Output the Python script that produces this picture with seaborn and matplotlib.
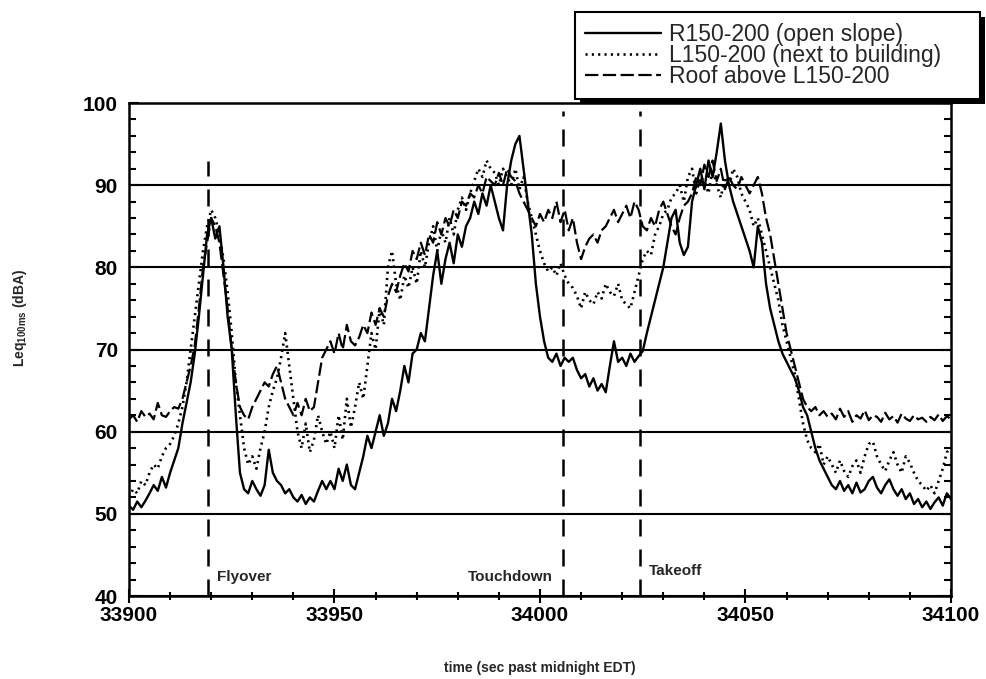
import matplotlib
matplotlib.use("Agg")
import matplotlib.pyplot as plt
from matplotlib.ticker import MultipleLocator
from matplotlib.patches import Rectangle
import seaborn as sns
import pandas as pd

# time axis, one reading per second
time = list(range(33900, 34101))

# R150-200 (open slope)
r_open = [
    51, 50.5, 51.5, 50.8, 51.6,
    52.5, 53.5, 52.8, 54.5, 53.2, 55,
    56.5, 58, 61,
    63.5, 66, 69.5,
    74, 79, 84,
    86, 83.5, 85,
    80, 74, 70,
    62, 55,
    53, 52.5, 54, 53, 52.2, 53.5,
    57.8, 55,
    54, 53.5, 52.5, 53, 52,
    51.5, 52.3, 51.2, 52, 51.5, 52.8,
    54, 53,
    54, 53, 55.5, 54, 56, 53.5, 53,
    55, 57, 59.5, 58, 60,
    62, 59.5, 61, 64, 62.5,
    65, 68, 66, 69.5, 70,
    72, 71, 75,
    79, 82, 78, 81,
    83, 80.5, 84, 82.5, 85,
    86, 88, 86.5, 89, 87.5, 90, 88,
    86, 84.5,
    90, 93, 95, 96, 92,
    88, 84,
    78, 74, 71,
    69, 68.5, 69.5, 68, 69, 68.5, 69,
    67.5, 66.5, 67, 65.5, 66.5, 65, 65.8, 64.8,
    68, 71, 68.5, 69, 68, 69.5, 68.5, 69.2, 69.8,
    72, 74, 76,
    78, 80, 83,
    86, 87,
    83, 81.5, 82.5,
    88, 90, 92, 89.5, 93, 91, 94, 97.5, 93, 90,
    88, 86.5, 85, 83.5, 82,
    80, 85, 83,
    78, 75, 73, 71, 69.5,
    68.5, 67.5, 66.5, 65,
    63, 62, 60,
    58, 56.5, 55.5, 54.5,
    53.5, 53, 54, 52.8, 53.5, 52.5, 53.8, 52.6, 53, 54,
    54.5, 53.2, 52.5, 53.5, 54.2, 53, 52.2, 53, 51.8, 52.5,
    51.2, 51.8, 50.8, 51.5, 50.6, 51.4, 52, 51, 52.5, 51.8,
]

# L150-200 (next to building)
l_building = [
    52, 53, 52.5, 54, 53.5,
    55, 56, 55.5, 57, 58, 58.5,
    59.5, 61, 63,
    66, 70, 74,
    78, 82, 85,
    87, 86, 84,
    81, 77, 72,
    66, 62,
    58, 56, 57, 55.5, 58, 60,
    63, 65,
    66.5, 69, 72, 68, 64,
    60, 58, 61, 57.5, 59, 62,
    60, 58.5,
    60, 58, 62, 59, 64, 60.5, 63,
    66, 64, 68, 72, 70,
    75, 73, 80, 82, 78,
    76, 79, 77.5, 80, 78,
    82, 80, 83,
    85, 82, 84.5, 83,
    86, 84, 87, 88.5, 87,
    89, 90.5, 92, 91, 93, 92, 91.5,
    90, 92,
    91, 90, 92, 89.5, 91,
    88, 86,
    84, 82, 80.5,
    79.5, 80, 79, 80.5, 79, 78, 77.5,
    76.5, 75, 77, 76, 75.5, 77, 76.2, 78,
    77, 76.5, 78, 76, 75.5, 75, 77, 79, 81,
    82, 81.5, 84,
    85, 86.5, 87,
    88.5, 89,
    90, 88, 91,
    92, 89, 91, 90.5, 89, 92, 90, 88.5, 91, 90,
    92, 91, 89, 88, 87,
    85, 86, 84,
    82, 80, 78, 76, 73,
    71, 69, 67, 64,
    61, 59, 58,
    57.5, 58.5, 56, 57,
    56, 55, 56.5, 55.2, 54.5, 55.8, 56.5, 55, 57, 58.5,
    58.8, 57, 56, 55.2, 56.5, 57.5, 56, 55, 57, 56.2,
    55, 54, 53.5, 52.8, 53.5, 52.5, 54, 55.5, 57.5, 58,
]

# Roof above L150-200
roof = [
    61.5, 62, 61.2, 62.5, 61.8,
    62.2, 61.5, 63.5, 62, 61.8, 62.5,
    63, 62.8, 64,
    66, 68, 70.5,
    75, 80, 83,
    86, 85, 83,
    79, 75, 70,
    66, 63,
    62, 61.5, 63, 64, 65, 66,
    65.5, 67,
    68, 66, 64, 63, 62,
    63.5, 62, 64, 62.5, 63, 66,
    69, 70,
    71, 69.5, 72, 70, 73, 71, 70.5,
    71.5, 73, 72, 74.5, 73,
    75, 74, 76.5, 78, 77,
    79, 80.5, 79.5, 82, 81,
    83, 81.5, 84,
    83, 85.5, 84, 86,
    85, 87, 86, 88, 87.5,
    89, 88.5, 90, 89, 91, 90.5, 90,
    91.5, 90,
    92, 91, 90.5, 89, 88,
    87, 86,
    85, 86.5, 85.5,
    87, 86, 88, 85.5, 87, 84.5, 86,
    83, 81, 82.5, 83.5, 84, 83, 84.5, 85,
    86, 87, 85.5, 86.5, 87.5, 86, 88, 87, 85,
    84.5, 86, 85,
    87, 88, 86.5,
    85, 84,
    86, 87.5, 88,
    89, 91, 90, 92.5, 91, 93, 90.5, 92, 89.5, 91,
    90, 89.5, 91, 90, 89,
    90, 91, 89,
    86, 84, 81, 78, 75,
    72, 70, 68, 66,
    64, 63, 62.5,
    63, 62, 62.5, 61.8,
    62.2, 61.5, 62.8, 61.8, 62.5, 61.2, 62, 61.6, 62.6, 61.4,
    62, 61.8, 61.2, 62.3, 61.5, 61.9, 61.1, 62.2, 61.6, 61.3,
    62, 61.5, 61.7, 61.2, 61.8, 61.4, 62.1, 61.3, 61.9, 61.5,
]

# event markers
event_times = [33919.3, 34005.7, 34024.3]
event_tops = [93, 99, 99]
event_labels = ["Flyover", "Touchdown", "Takeoff"]

series_labels = ["R150-200 (open slope)", "L150-200 (next to building)", "Roof above L150-200"]

df = pd.DataFrame({"time": time, "R": r_open, "L": l_building, "Roof": roof})

sns.set_style("ticks")
plt.rcParams["font.family"] = ["Liberation Sans", "DejaVu Sans"]
plt.rcParams["mathtext.default"] = "regular"

fig = plt.figure(figsize=(9.87, 6.79), dpi=100)
ax = fig.add_axes([0.1307, 0.1222, 0.8328, 0.7261])

sns.lineplot(data=df, x="time", y="R", ax=ax, color="black", lw=1.7,
             estimator=None, label=series_labels[0])
sns.lineplot(data=df, x="time", y="L", ax=ax, color="black", lw=1.9,
             estimator=None, label=series_labels[1])
sns.lineplot(data=df, x="time", y="Roof", ax=ax, color="black", lw=1.6,
             estimator=None, label=series_labels[2])
lines = ax.get_lines()
lines[1].set_linestyle((0, (0.8, 1.6)))
lines[2].set_linestyle((0, (6, 2)))

# event lines and names
ax.vlines(event_times, 40, event_tops, colors="black", lw=1.8,
          linestyles=[(0, (6.8, 5.2))])
ax.text(event_times[0] + 2.2, 42.3, event_labels[0], fontsize=11, fontweight="bold", va="center", ha="left")
ax.text(event_times[1] - 2.5, 42.3, event_labels[1], fontsize=11, fontweight="bold", va="center", ha="right")
ax.text(event_times[2] + 2.2, 43.0, event_labels[2], fontsize=11, fontweight="bold", va="center", ha="left")

ax.set_xlim(33900, 34100)
ax.set_ylim(40, 100)
ax.xaxis.set_major_locator(MultipleLocator(50))
ax.xaxis.set_minor_locator(MultipleLocator(10))
ax.yaxis.set_major_locator(MultipleLocator(10))
ax.yaxis.set_minor_locator(MultipleLocator(2))
ax.yaxis.grid(True, color="black", lw=1.5)
ax.xaxis.grid(False)

for s in ax.spines.values():
    s.set_visible(True)
    s.set_linewidth(1.8)
    s.set_color("black")

ax.tick_params(axis="y", which="both", direction="in", left=True, right=True,
               labelsize=15, width=1.5, pad=8, colors="black")
ax.tick_params(axis="y", which="major", length=7)
ax.tick_params(axis="y", which="minor", length=5)
ax.tick_params(axis="x", which="both", direction="inout", top=False, bottom=True,
               labelsize=15, width=1.5, pad=2.5, colors="black")
ax.tick_params(axis="x", which="major", length=10)
ax.tick_params(axis="x", which="minor", length=6)
for lab in ax.get_xticklabels() + ax.get_yticklabels():
    lab.set_fontweight("bold")

ax.set_xlabel("time (sec past midnight EDT)", fontsize=10, fontweight="bold")
ax.set_ylabel("Leq$_{100ms}$ (dBA)", fontsize=10, fontweight="bold")
ax.xaxis.set_label_coords(0.5, -0.132)
ax.yaxis.set_label_coords(-0.122, 0.564)

handles, labels = ax.get_legend_handles_labels()
ax.get_legend().remove()
leg = fig.legend(handles, labels, loc="upper left",
                 bbox_to_anchor=(0.5826, 0.852, 0.4103, 0.13), mode="expand",
                 borderaxespad=0, frameon=True, fancybox=False, shadow=False,
                 edgecolor="black", framealpha=1, fontsize=16.5,
                 handlelength=3.3, labelspacing=-0.07, borderpad=0.45, handletextpad=0.35)
leg.get_frame().set_linewidth(1.5)

# heavy drop shadow under the legend box
fig.canvas.draw()
bb = leg.get_window_extent().transformed(fig.transFigure.inverted())
dx, dy = 5 / 987, 5 / 679
fig.patches.append(Rectangle((bb.x0 + dx, bb.y0 - dy), bb.width, bb.height,
                             transform=fig.transFigure, facecolor="black",
                             edgecolor="none", zorder=4))

fig.savefig("out.png", dpi=100)
